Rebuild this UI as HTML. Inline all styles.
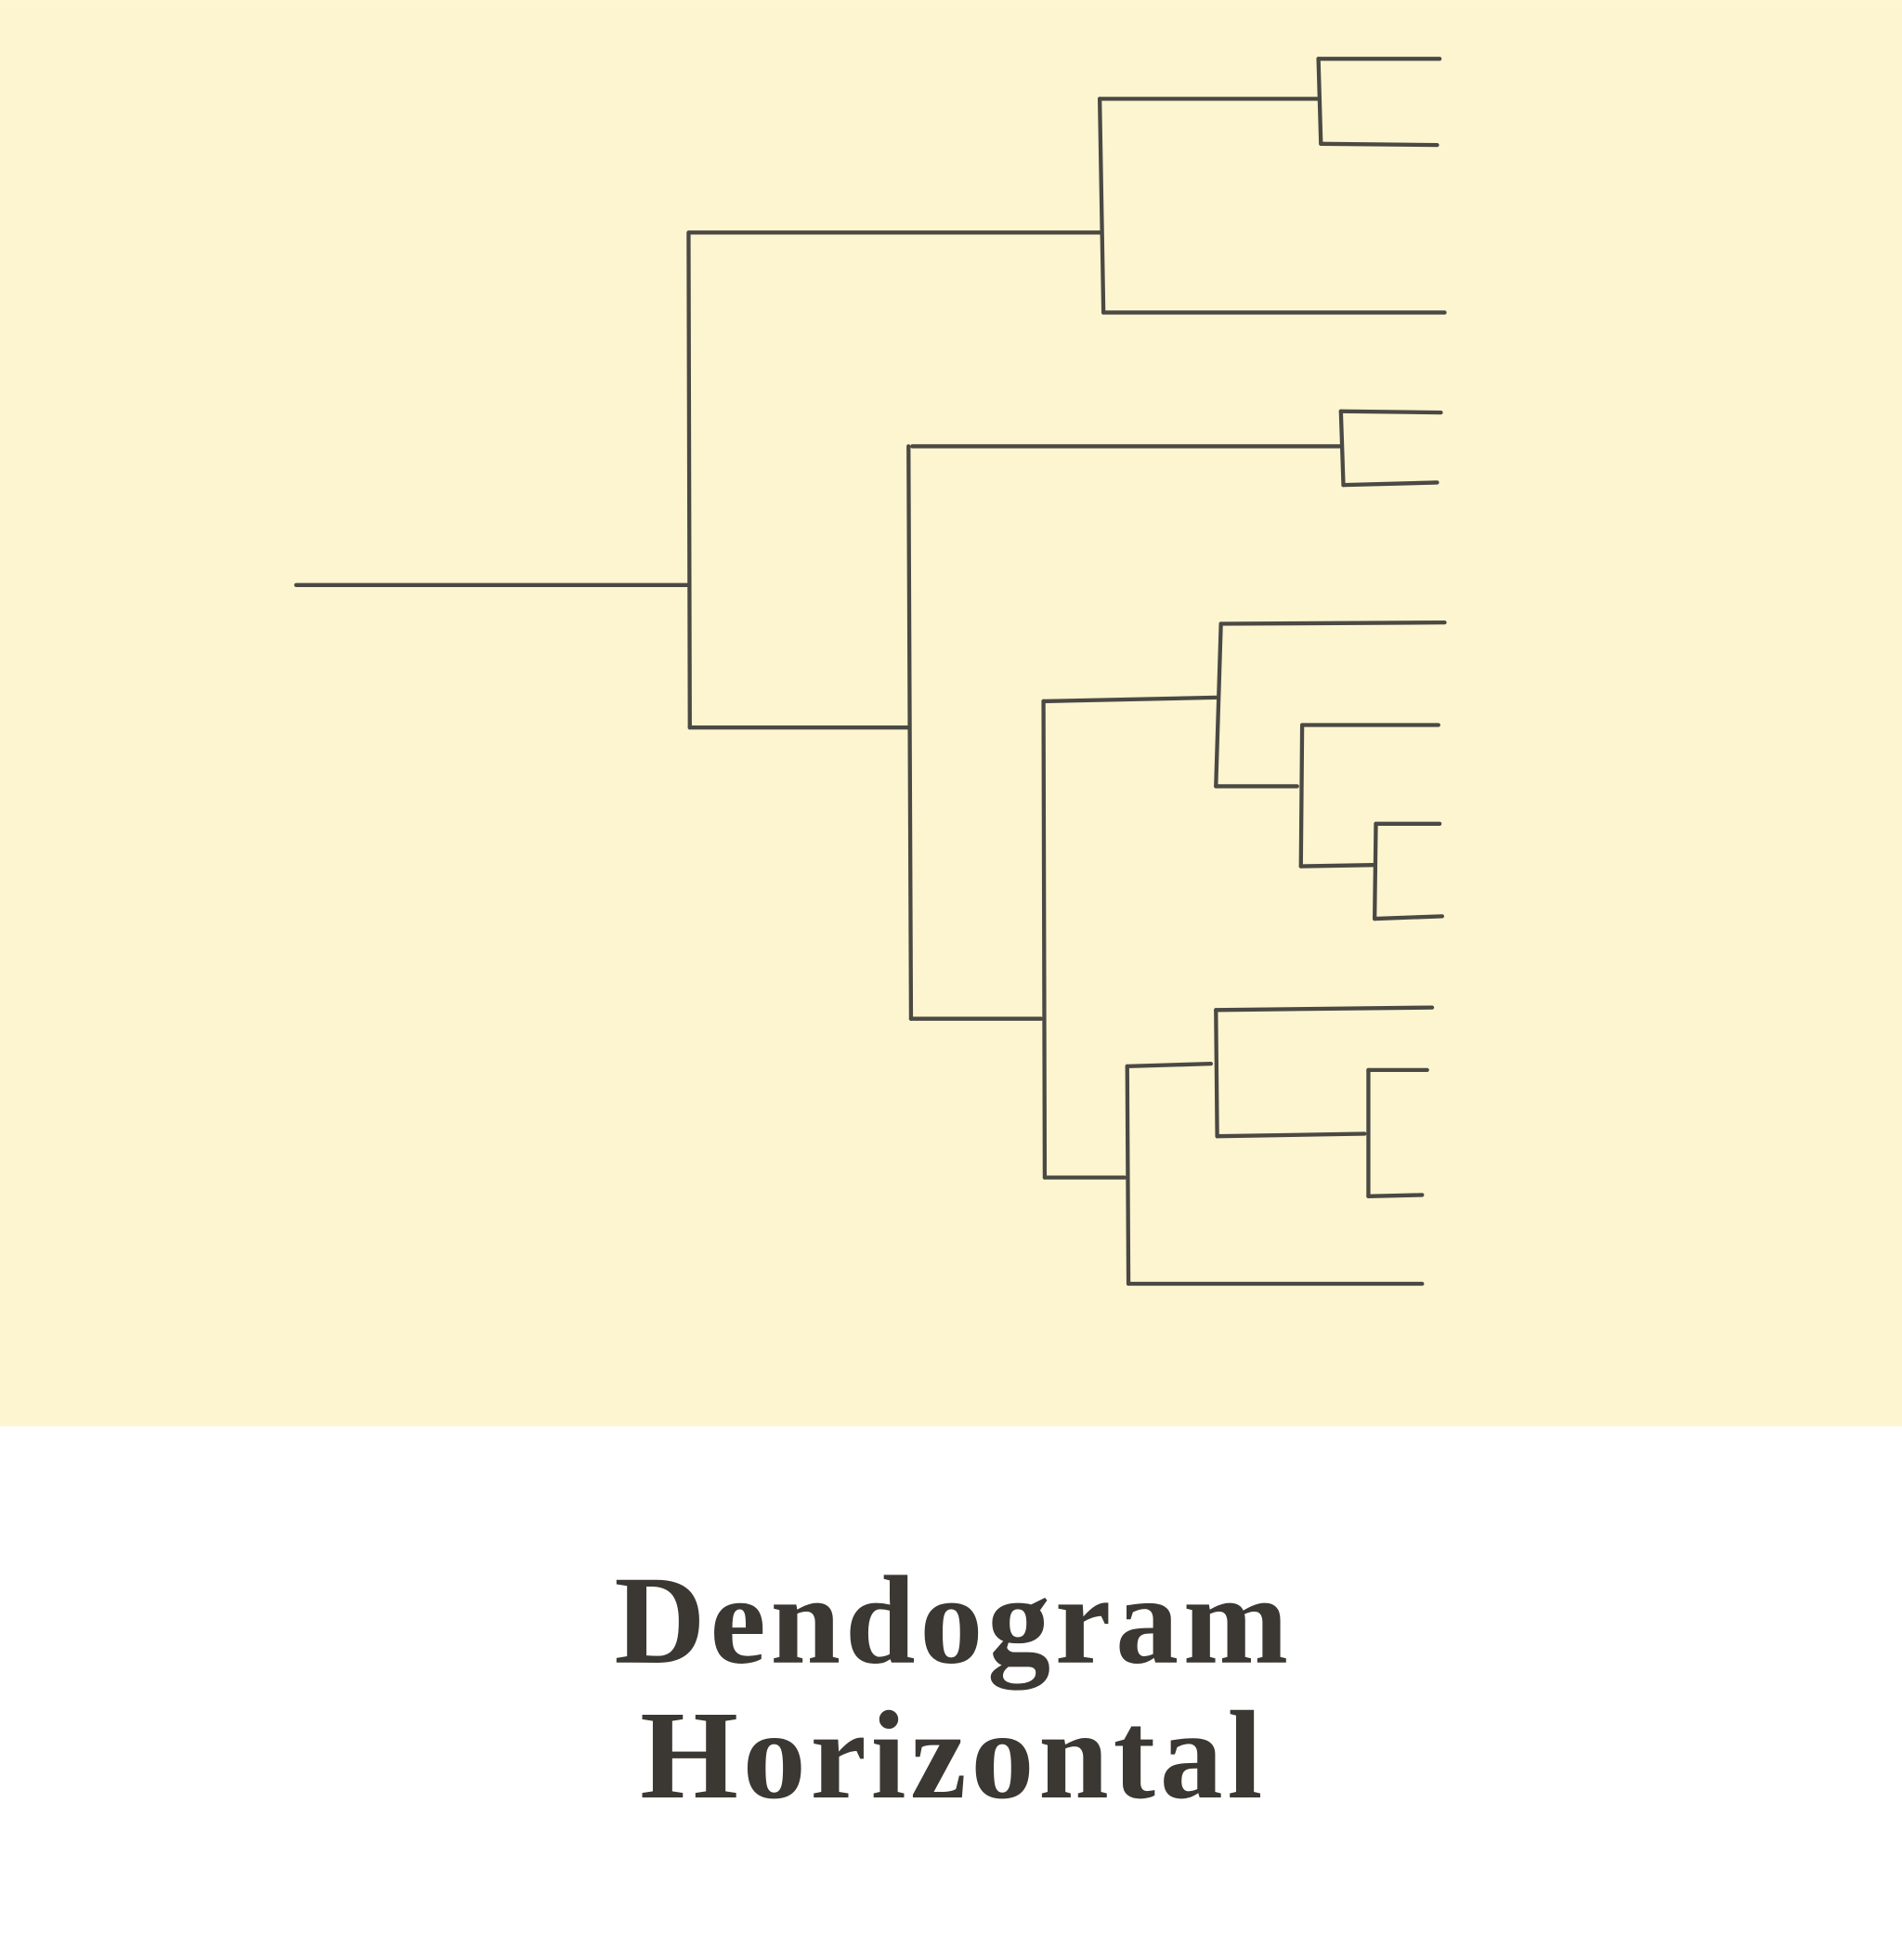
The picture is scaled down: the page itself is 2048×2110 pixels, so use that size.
<!DOCTYPE html>
<html><head><meta charset="utf-8"><style>
html,body{margin:0;padding:0;background:#fff;}
svg{display:block;}
</style></head><body>
<svg width="2048" height="2110" viewBox="0 0 1522 1568" xmlns="http://www.w3.org/2000/svg">
<rect x="0" y="0" width="1522" height="1141" fill="#fdf5cf"/>
<g stroke="#4a4944" stroke-width="3.2" fill="none" stroke-linecap="round">
<path d="M237 468 L551 468"/>
<path d="M551 186 L552 582"/>
<path d="M552 186 L880 186"/>
<path d="M880 79 L883 250"/>
<path d="M880 79 L1055 79"/>
<path d="M1055 47 L1057 115"/>
<path d="M1055 47 L1152 47"/>
<path d="M1057 115 L1150 116"/>
<path d="M883 250 L1156 250"/>
<path d="M552 582 L726 582"/>
<path d="M727 357 L729 815"/>
<path d="M730 357 L1072 357"/>
<path d="M1073 329 L1075 388"/>
<path d="M1073 329 L1153 330"/>
<path d="M1075 388 L1150 386"/>
<path d="M729 815 L833 815"/>
<path d="M835 561 L836 942"/>
<path d="M835 561 L973 558"/>
<path d="M977 499 L973 629"/>
<path d="M977 499 L1156 498"/>
<path d="M973 629 L1038 629"/>
<path d="M1042 580 L1041 693"/>
<path d="M1042 580 L1151 580"/>
<path d="M1041 693 L1099 692"/>
<path d="M1101 659 L1100 735"/>
<path d="M1101 659 L1152 659"/>
<path d="M1100 735 L1154 733"/>
<path d="M836 942 L900 942"/>
<path d="M902 853 L903 1027"/>
<path d="M902 853 L969 851"/>
<path d="M973 808 L974 909"/>
<path d="M973 808 L1146 806"/>
<path d="M974 909 L1092 907"/>
<path d="M1095 856 L1095 957"/>
<path d="M1095 856 L1142 856"/>
<path d="M1095 957 L1138 956"/>
<path d="M903 1027 L1138 1027"/>
</g>
<g fill="#3b3833" font-family="'Liberation Serif', serif" font-weight="bold" font-size="101" letter-spacing="3.6" text-anchor="middle">
<text x="763" y="1330">Dendogram</text>
<text x="763" y="1438">Horizontal</text>
</g>
</svg>
</body></html>
